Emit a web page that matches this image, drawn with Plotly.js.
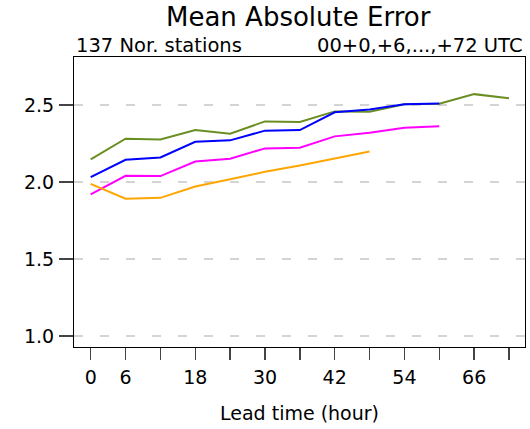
<!DOCTYPE html>
<html>
<head>
<meta charset="utf-8">
<script src="https://cdn.plot.ly/plotly-3.0.1.min.js"></script>
<style>
  html, body { margin: 0; padding: 0; background: #fff; }
  #chart { width: 530px; height: 429px; }
</style>
</head>
<body>
<div id="chart"></div>
<script>
// Lead times (hours) and MAE per forecast run
const leadTimes = [0, 6, 12, 18, 24, 30, 36, 42, 48, 54, 60, 66, 72];
const maeGreen   = [2.147, 2.282, 2.277, 2.338, 2.314, 2.394, 2.390, 2.459, 2.457, 2.505, 2.509, 2.571, 2.545];
const maeBlue    = [2.032, 2.145, 2.160, 2.262, 2.271, 2.334, 2.338, 2.453, 2.472, 2.505, 2.511];
const maeMagenta = [1.920, 2.041, 2.039, 2.134, 2.152, 2.219, 2.223, 2.297, 2.321, 2.353, 2.362];
const maeOrange  = [1.989, 1.892, 1.898, 1.972, 2.018, 2.067, 2.108, 2.152, 2.199];

const xTickLabels = ["0", "6", "", "18", "", "30", "", "42", "", "54", "", "66", ""];
const yTickVals = [1.0, 1.5, 2.0, 2.5];
const yTickLabels = ["1.0", "1.5", "2.0", "2.5"];

const FONT = "DejaVu Sans, Liberation Sans, Arial, sans-serif";

function series(y, color) {
  return {
    type: "scatter",
    mode: "lines",
    x: leadTimes.slice(0, y.length),
    y: y,
    line: { color: color, width: 2 },
    hoverinfo: "skip",
    showlegend: false
  };
}

const data = [
  series(maeGreen, "#6B8E23"),
  series(maeBlue, "#0000FF"),
  series(maeMagenta, "#FF00FF"),
  series(maeOrange, "#FFA500")
];

const layout = {
  width: 530,
  height: 429,
  margin: { l: 74, r: 5, t: 57, b: 82, pad: 0 },
  paper_bgcolor: "#ffffff",
  plot_bgcolor: "#ffffff",
  font: { family: FONT, color: "#000000", size: 19 },
  title: {
    text: "Mean Absolute Error",
    font: { family: FONT, size: 26, color: "#000000" },
    xref: "container",
    x: 166 / 530,
    xanchor: "left",
    yref: "container",
    y: 1 - 17 / 429,
    yanchor: "middle"
  },
  xaxis: {
    range: [-2.87, 74.75],
    tickmode: "array",
    tickvals: leadTimes,
    ticktext: xTickLabels,
    ticks: "outside",
    ticklen: 12,
    tickwidth: 1.5,
    tickcolor: "#444444",
    tickfont: { family: FONT, size: 19, color: "#000000" },
    ticklabelstandoff: 1,
    showgrid: false,
    zeroline: false,
    showline: true,
    linecolor: "#000000",
    linewidth: 1,
    mirror: true,
    automargin: false,
    title: {
      text: "Lead time (hour)",
      font: { family: FONT, size: 19, color: "#000000" },
      standoff: 19
    }
  },
  yaxis: {
    range: [0.930, 2.812],
    tickmode: "array",
    tickvals: yTickVals,
    ticktext: yTickLabels,
    ticks: "outside",
    ticklen: 14,
    tickwidth: 1.5,
    tickcolor: "#444444",
    tickfont: { family: FONT, size: 19, color: "#000000" },
    ticklabelstandoff: 1,
    showgrid: true,
    gridcolor: "#d4d4d4",
    gridwidth: 1.5,
    griddash: "9px,17px",
    zeroline: false,
    showline: true,
    linecolor: "#000000",
    linewidth: 1,
    mirror: true,
    automargin: false
  },
  annotations: [
    {
      text: "137 Nor. stations",
      xref: "paper", yref: "paper",
      x: 0, y: 1, xanchor: "left", yanchor: "middle",
      yshift: 12, showarrow: false,
      font: { family: FONT, size: 19.5, color: "#000000" }
    },
    {
      text: "00+0,+6,...,+72 UTC",
      xref: "paper", yref: "paper",
      x: 1, y: 1, xanchor: "right", yanchor: "middle",
      yshift: 12, showarrow: false,
      font: { family: FONT, size: 19.5, color: "#000000" }
    }
  ]
};

Plotly.newPlot("chart", data, layout, { displayModeBar: false, staticPlot: true });
</script>
</body>
</html>
